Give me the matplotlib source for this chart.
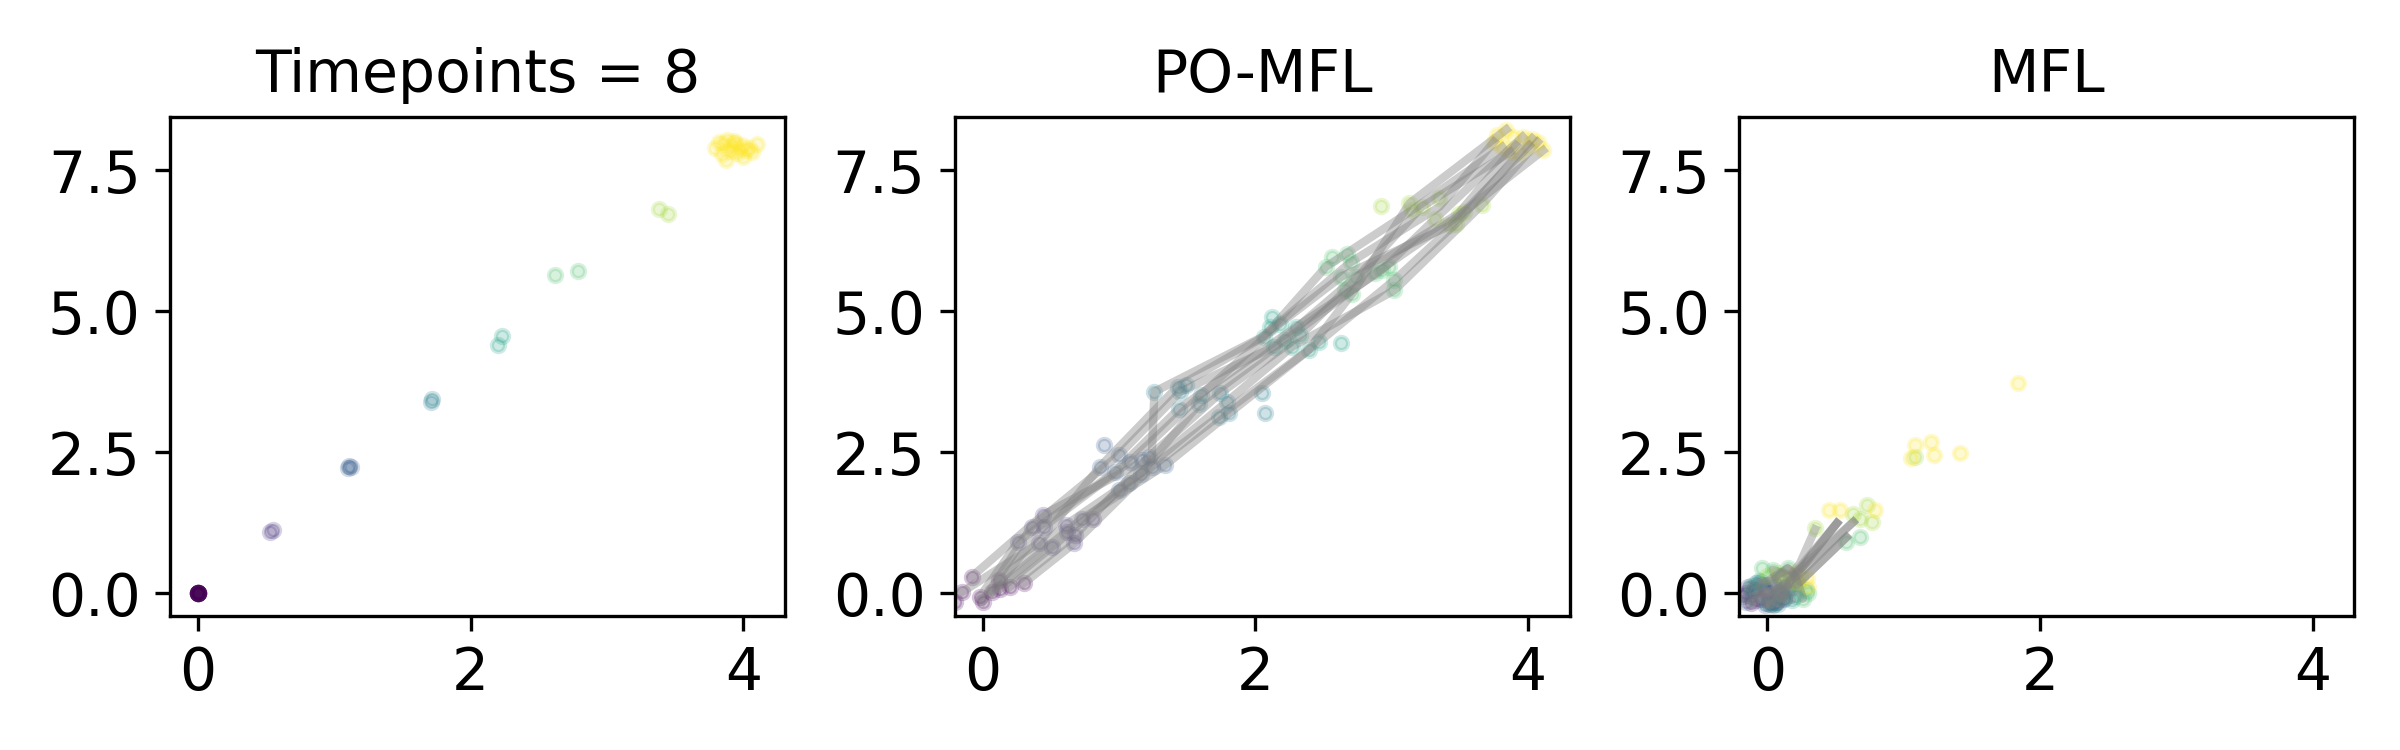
import matplotlib.pyplot as plt

titles = ['Timepoints = 8', 'PO-MFL', 'MFL']
n_times = 8

# ground truth particles, one list per timepoint
gt_x = [
    [0.0, 0.0, 0.0, 0.0, 0.0, 0.0, 0.0, 0.0, 0.0, 0.0, 0.0, 0.0],
    [0.53, 0.55],
    [1.10, 1.11, 1.12],
    [1.71, 1.72],
    [2.20, 2.23],
    [2.62, 2.79],
    [3.38, 3.45],
    [3.79, 3.82, 3.85, 3.87, 3.88, 3.90, 3.92, 3.94, 3.95, 3.97, 3.99, 4.00,
     4.02, 4.04, 4.06, 4.10, 3.84, 3.93],
]
gt_y = [
    [0.0, 0.0, 0.0, 0.0, 0.0, 0.0, 0.0, 0.0, 0.0, 0.0, 0.0, 0.0],
    [1.08, 1.12],
    [2.21, 2.26, 2.24],
    [3.38, 3.44],
    [4.40, 4.55],
    [5.64, 5.71],
    [6.81, 6.72],
    [7.90, 8.00, 7.96, 7.68, 8.04, 7.84, 7.92, 7.98, 7.80, 7.88, 7.94, 7.74,
     7.86, 7.90, 7.83, 7.96, 7.78, 8.02],
]

# PO-MFL particles
po_x = [
    [-0.15, -0.08, -0.02, 0.07, 0.12, 0.20, 0.30, -0.20, 0.00, 0.13],
    [0.44, 0.36, 0.26, 0.41, 0.51, 0.61, 0.68, 0.67, 0.73, 0.81, 0.45, 0.62],
    [0.89, 0.86, 1.00, 1.08, 1.22, 1.34, 1.24, 1.16, 1.07, 1.00, 0.97, 1.17],
    [1.26, 1.43, 1.49, 1.45, 1.60, 1.44, 1.59, 1.74, 1.79, 1.81, 1.73, 2.05, 2.07],
    [2.11, 2.18, 2.06, 2.14, 2.22, 2.30, 2.33, 2.27, 2.39, 2.47, 2.63, 2.12],
    [2.52, 2.56, 2.67, 2.70, 2.63, 2.74, 2.66, 2.71, 2.88, 2.93, 2.98, 3.02, 3.02],
    [2.92, 3.13, 3.22, 3.35, 3.49, 3.53, 3.43, 3.66, 3.32, 3.15, 3.47],
    [3.84, 3.75, 3.81, 3.89, 3.96, 4.03, 4.07, 4.11, 3.93, 4.01, 3.87, 3.77],
]
po_y = [
    [0.02, 0.29, -0.07, 0.02, 0.23, 0.11, 0.17, -0.15, -0.15, 0.08],
    [1.38, 1.18, 0.91, 0.88, 0.82, 1.21, 1.03, 0.88, 1.32, 1.32, 1.18, 1.09],
    [2.62, 2.24, 2.45, 2.33, 2.42, 2.27, 2.24, 2.12, 1.95, 1.83, 2.15, 2.36],
    [3.57, 3.66, 3.69, 3.57, 3.51, 3.27, 3.36, 3.54, 3.39, 3.19, 3.13, 3.54, 3.19],
    [4.72, 4.78, 4.54, 4.37, 4.49, 4.72, 4.57, 4.37, 4.31, 4.46, 4.43, 4.90],
    [5.79, 5.96, 6.02, 5.87, 5.61, 5.61, 5.37, 5.31, 5.67, 5.73, 5.79, 5.55, 5.37],
    [6.86, 6.91, 6.85, 7.00, 6.73, 6.76, 6.52, 6.88, 6.64, 6.79, 6.55],
    [8.22, 8.00, 7.91, 8.09, 8.09, 8.06, 8.00, 7.85, 7.80, 7.91, 7.82, 8.12],
]

# PO-MFL trajectories (one row per particle, one value per timepoint)
po_traj_x = [
    [-0.08, 0.44, 1.24, 1.26, 2.05, 2.70, 3.35, 3.75],
    [0.00, 0.36, 1.00, 1.45, 2.14, 2.74, 3.49, 3.91],
    [0.07, 0.45, 1.08, 1.60, 2.18, 2.63, 3.43, 4.01],
    [0.12, 0.61, 1.16, 1.59, 2.22, 2.88, 3.53, 4.11],
    [-0.02, 0.26, 0.97, 1.44, 2.30, 2.93, 3.32, 3.96],
    [0.20, 0.68, 1.22, 1.74, 2.33, 2.66, 3.22, 3.87],
    [0.13, 0.51, 1.07, 1.79, 2.27, 3.02, 3.66, 4.07],
    [0.30, 0.67, 1.24, 1.73, 2.39, 2.71, 3.13, 3.84],
    [-0.15, 0.41, 0.86, 1.43, 2.06, 2.52, 3.15, 3.81],
    [0.07, 0.73, 1.34, 1.81, 2.47, 3.02, 3.47, 4.03],
]
po_traj_y = [
    [0.29, 1.38, 2.42, 3.57, 4.54, 5.87, 6.85, 8.00],
    [-0.15, 1.18, 2.45, 3.57, 4.37, 5.61, 6.73, 7.94],
    [0.02, 1.18, 2.33, 3.51, 4.78, 5.61, 6.52, 7.94],
    [0.23, 1.21, 2.12, 3.36, 4.49, 5.67, 6.76, 7.85],
    [-0.07, 0.91, 2.15, 3.27, 4.72, 5.73, 6.64, 8.09],
    [0.11, 1.03, 2.42, 3.54, 4.57, 5.37, 6.85, 7.82],
    [0.08, 0.82, 1.95, 3.39, 4.37, 5.37, 6.88, 8.00],
    [0.17, 0.88, 2.24, 3.13, 4.31, 5.31, 6.91, 8.22],
    [0.02, 0.88, 2.24, 3.66, 4.54, 5.79, 6.79, 7.91],
    [0.02, 1.32, 2.27, 3.19, 4.46, 5.55, 6.55, 8.06],
]

# MFL particles
mfl_x = [
    [-0.16, -0.12, -0.05, 0.02, 0.06, -0.10, -0.02, 0.08],
    [-0.14, -0.08, 0.00, 0.05, 0.10, -0.04, 0.12, -0.18],
    [-0.12, -0.02, 0.06, 0.12, -0.08, 0.16, 0.02, -0.16],
    [-0.10, 0.00, 0.08, 0.15, 0.20, -0.05, 0.10, 0.04],
    [-0.06, 0.04, 0.12, 0.18, 0.28, 0.10, -0.12, 0.22],
    [-0.04, 0.04, 0.15, 0.22, 0.30, 0.26, 0.10, 0.58, 0.68],
    [0.00, 0.08, 0.18, 0.24, 0.35, 0.63, 0.73, 0.77, 1.08, 0.68],
    [0.12, 0.29, 0.30, 0.45, 0.53, 0.79, 1.05, 1.08, 1.20, 1.22, 1.41, 1.84,
     0.22, 0.20],
]
mfl_y = [
    [0.00, -0.18, -0.10, -0.20, -0.15, 0.05, 0.08, -0.05],
    [0.10, -0.12, 0.02, -0.20, 0.00, 0.15, -0.10, -0.05],
    [-0.05, -0.22, 0.10, -0.08, 0.18, 0.05, -0.12, -0.15],
    [0.05, -0.18, -0.20, 0.12, -0.05, 0.20, 0.02, 0.15],
    [0.22, -0.22, 0.18, -0.12, 0.05, -0.05, 0.12, 0.20],
    [0.44, 0.41, 0.44, 0.15, 0.00, -0.10, 0.30, 0.91, 0.99],
    [0.30, 0.35, 0.20, 0.30, 1.15, 1.41, 1.56, 1.26, 2.42, 1.32],
    [0.25, 0.27, 0.10, 1.47, 1.47, 1.47, 2.39, 2.62, 2.68, 2.45, 2.48, 3.72,
     0.20, 0.35],
]

# MFL trajectories
mfl_traj_x = [
    [-0.12, -0.08, -0.02, 0.00, 0.04, 0.10, 0.24, 0.35],
    [-0.10, -0.05, 0.00, 0.05, 0.08, 0.12, 0.20, 0.51],
    [-0.16, -0.14, -0.08, -0.05, 0.04, 0.15, 0.22, 0.63],
    [0.02, 0.05, 0.06, 0.10, 0.12, 0.22, 0.26, 0.58],
    [-0.05, 0.00, 0.02, 0.08, 0.18, 0.10, 0.20, 0.51],
    [0.06, 0.10, 0.12, 0.15, 0.10, 0.04, 0.18, 0.63],
    [-0.02, -0.04, -0.12, 0.00, -0.06, 0.15, 0.24, 0.58],
    [0.08, 0.12, 0.16, 0.20, 0.22, 0.26, 0.20, 0.51],
]
mfl_traj_y = [
    [-0.18, -0.12, -0.05, -0.18, 0.05, 0.10, 0.53, 1.13],
    [-0.05, 0.00, 0.02, 0.05, 0.08, 0.12, 0.28, 1.24],
    [-0.10, 0.10, 0.18, 0.20, 0.22, 0.44, 0.30, 1.26],
    [-0.20, -0.20, 0.10, -0.20, 0.18, 0.15, 0.25, 0.99],
    [0.05, 0.02, -0.22, 0.12, -0.12, -0.10, 0.35, 1.24],
    [-0.15, 0.00, -0.08, 0.12, 0.02, 0.41, 0.30, 1.26],
    [0.08, 0.15, -0.15, -0.18, 0.12, 0.44, 0.20, 0.99],
    [-0.05, -0.10, 0.05, 0.02, 0.20, -0.10, 0.30, 1.24],
]

plt.rcParams['font.size'] = 14

fig, axes = plt.subplots(1, 3, figsize=(8, 2.5), dpi=300)
fig.subplots_adjust(left=0.0708, right=0.981, bottom=0.179, top=0.844, wspace=0.276)
cmap = plt.get_cmap('viridis')


def draw(ax, px, py, tx=None, ty=None):
    for t in range(n_times):
        ax.scatter(px[t], py[t], s=10, color=cmap(t / (n_times - 1)), alpha=0.22)
    if tx is not None:
        for xs, ys in zip(tx, ty):
            ax.plot(xs, ys, color='gray', alpha=0.4, lw=2)


draw(axes[0], gt_x, gt_y)
draw(axes[1], po_x, po_y, po_traj_x, po_traj_y)
draw(axes[2], mfl_x, mfl_y, mfl_traj_x, mfl_traj_y)

xl = axes[0].get_xlim()
yl = axes[0].get_ylim()
for ax, title in zip(axes, titles):
    ax.set_xlim(xl)
    ax.set_ylim(yl)
    ax.set_title(title, fontsize=14)

fig.savefig('out.png', dpi=300)
